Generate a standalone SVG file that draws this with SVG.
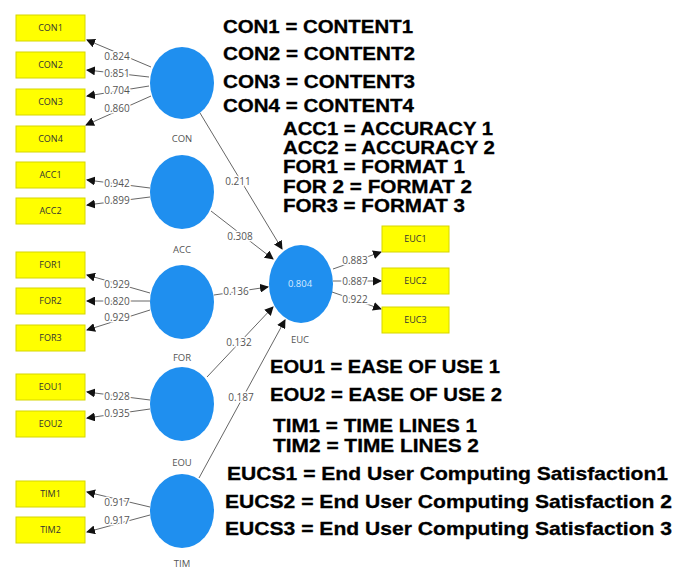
<svg xmlns="http://www.w3.org/2000/svg" width="688" height="571" viewBox="0 0 688 571">
<defs>
<marker id="ah" markerUnits="userSpaceOnUse" markerWidth="9" markerHeight="9" refX="8" refY="4.5" orient="auto">
<path d="M0,0 L9,4.5 L0,9 Z" fill="#111"/>
</marker>
<style>
.box{fill:#ffff00;stroke:#d6d600;stroke-width:1}
.bt{font-family:"Open Sans","Liberation Sans",sans-serif;font-size:9px;fill:#333;text-anchor:middle}
.lv{fill:#1f8fef}
.lt{font-family:"Open Sans","Liberation Sans",sans-serif;font-size:9.5px;fill:#555;text-anchor:middle}
.ln{stroke:#666;stroke-width:1;fill:none;marker-end:url(#ah)}
.ll{font-family:"Open Sans","Liberation Sans",sans-serif;font-size:10px;fill:#555;text-anchor:middle;dominant-baseline:central;stroke:#fff;stroke-width:3px;paint-order:stroke}
.lg{font-family:"Liberation Sans",Arial,sans-serif;font-weight:bold;font-size:19px;fill:#000;stroke:#000;stroke-width:0.3px}
</style>
</defs>
<rect width="688" height="571" fill="#fff"/>

<g id="connectors">
<line class="ln" x1="151" y1="67" x2="87" y2="40"/>
<line class="ln" x1="149" y1="77" x2="87" y2="70"/>
<line class="ln" x1="149" y1="86" x2="87" y2="96"/>
<line class="ln" x1="151" y1="96" x2="86" y2="125"/>
<line class="ln" x1="150" y1="188" x2="87" y2="180"/>
<line class="ln" x1="150" y1="197" x2="87" y2="205"/>
<line class="ln" x1="150" y1="293" x2="87" y2="275"/>
<line class="ln" x1="150" y1="301" x2="87" y2="301"/>
<line class="ln" x1="150" y1="310" x2="87" y2="330"/>
<line class="ln" x1="150" y1="400" x2="87" y2="392"/>
<line class="ln" x1="150" y1="409" x2="87" y2="418"/>
<line class="ln" x1="150" y1="507" x2="87" y2="492"/>
<line class="ln" x1="150" y1="515" x2="87" y2="532"/>
<line class="ln" x1="200" y1="113" x2="282" y2="249"/>
<line class="ln" x1="211" y1="211" x2="273" y2="259"/>
<line class="ln" x1="214" y1="295" x2="268" y2="287"/>
<line class="ln" x1="207" y1="377" x2="273" y2="307"/>
<line class="ln" x1="199" y1="478" x2="285" y2="320"/>
<line class="ln" x1="333" y1="269" x2="381" y2="252"/>
<line class="ln" x1="333" y1="281" x2="381" y2="281"/>
<line class="ln" x1="332" y1="292" x2="381" y2="309"/>
<text class="ll" x="117" y="56">0.824</text>
<text class="ll" x="117" y="73">0.851</text>
<text class="ll" x="117" y="90">0.704</text>
<text class="ll" x="117" y="108">0.860</text>
<text class="ll" x="117" y="183">0.942</text>
<text class="ll" x="117" y="200">0.899</text>
<text class="ll" x="117" y="284">0.929</text>
<text class="ll" x="117" y="301">0.820</text>
<text class="ll" x="117" y="317">0.929</text>
<text class="ll" x="117" y="396">0.928</text>
<text class="ll" x="117" y="413">0.935</text>
<text class="ll" x="117" y="502">0.917</text>
<text class="ll" x="117" y="520">0.917</text>
<text class="ll" x="238" y="181">0.211</text>
<text class="ll" x="240" y="236">0.308</text>
<text class="ll" x="236" y="291">0.136</text>
<text class="ll" x="239" y="342">0.132</text>
<text class="ll" x="241" y="397">0.187</text>
<text class="ll" x="355" y="260">0.883</text>
<text class="ll" x="355" y="281">0.887</text>
<text class="ll" x="355" y="299">0.922</text>
</g>

<g id="CON1"><rect class="box" x="16" y="15" width="69" height="26"/><text class="bt" x="50.5" y="31">CON1</text></g>
<g id="CON2"><rect class="box" x="16" y="52" width="69" height="26"/><text class="bt" x="50.5" y="68">CON2</text></g>
<g id="CON3"><rect class="box" x="16" y="89" width="69" height="26"/><text class="bt" x="50.5" y="105">CON3</text></g>
<g id="CON4"><rect class="box" x="16" y="126" width="69" height="26"/><text class="bt" x="50.5" y="142">CON4</text></g>
<g id="ACC1"><rect class="box" x="16" y="162" width="69" height="26"/><text class="bt" x="50.5" y="178">ACC1</text></g>
<g id="ACC2"><rect class="box" x="16" y="198" width="69" height="26"/><text class="bt" x="50.5" y="214">ACC2</text></g>
<g id="FOR1"><rect class="box" x="16" y="252" width="69" height="26"/><text class="bt" x="50.5" y="268">FOR1</text></g>
<g id="FOR2"><rect class="box" x="16" y="288" width="69" height="26"/><text class="bt" x="50.5" y="304">FOR2</text></g>
<g id="FOR3"><rect class="box" x="16" y="325" width="69" height="26"/><text class="bt" x="50.5" y="341">FOR3</text></g>
<g id="EOU1"><rect class="box" x="16" y="374" width="69" height="26"/><text class="bt" x="50.5" y="390">EOU1</text></g>
<g id="EOU2"><rect class="box" x="16" y="411" width="69" height="26"/><text class="bt" x="50.5" y="427">EOU2</text></g>
<g id="TIM1"><rect class="box" x="16" y="481" width="69" height="26"/><text class="bt" x="50.5" y="497">TIM1</text></g>
<g id="TIM2"><rect class="box" x="16" y="517" width="69" height="26"/><text class="bt" x="50.5" y="533">TIM2</text></g>
<g id="EUC1"><rect class="box" x="382" y="226" width="67" height="26"/><text class="bt" x="415.5" y="242">EUC1</text></g>
<g id="EUC2"><rect class="box" x="382" y="268" width="67" height="26"/><text class="bt" x="415.5" y="284">EUC2</text></g>
<g id="EUC3"><rect class="box" x="382" y="307" width="67" height="26"/><text class="bt" x="415.5" y="323">EUC3</text></g>

<g id="CON"><ellipse class="lv" cx="182" cy="83" rx="32" ry="36"/><text class="lt" x="182" y="142">CON</text></g>
<g id="ACC"><ellipse class="lv" cx="182" cy="192" rx="32" ry="37"/><text class="lt" x="182" y="253">ACC</text></g>
<g id="FOR"><ellipse class="lv" cx="182" cy="302" rx="32" ry="37"/><text class="lt" x="182" y="361">FOR</text></g>
<g id="EOU"><ellipse class="lv" cx="182" cy="404" rx="32" ry="37"/><text class="lt" x="182" y="466">EOU</text></g>
<g id="TIM"><ellipse class="lv" cx="182" cy="511" rx="32" ry="37"/><text class="lt" x="182" y="567">TIM</text></g>
<g id="EUC"><ellipse class="lv" cx="301" cy="284" rx="32" ry="39"/><text class="lt" x="300" y="287" style="fill:#d6eaff">0.804</text><text class="lt" x="300" y="343">EUC</text></g>

<g id="legend">
<text class="lg" x="223" y="33" textLength="190" lengthAdjust="spacingAndGlyphs">CON1 = CONTENT1</text>
<text class="lg" x="223" y="60" textLength="192" lengthAdjust="spacingAndGlyphs">CON2 = CONTENT2</text>
<text class="lg" x="223" y="88" textLength="192" lengthAdjust="spacingAndGlyphs">CON3 = CONTENT3</text>
<text class="lg" x="223" y="112" textLength="191" lengthAdjust="spacingAndGlyphs">CON4 = CONTENT4</text>
<text class="lg" x="283" y="135" textLength="210" lengthAdjust="spacingAndGlyphs">ACC1 = ACCURACY 1</text>
<text class="lg" x="283" y="154" textLength="212" lengthAdjust="spacingAndGlyphs">ACC2 = ACCURACY 2</text>
<text class="lg" x="283" y="173" textLength="182" lengthAdjust="spacingAndGlyphs">FOR1 = FORMAT 1</text>
<text class="lg" x="283" y="193" textLength="189" lengthAdjust="spacingAndGlyphs">FOR 2 = FORMAT 2</text>
<text class="lg" x="283" y="212" textLength="182" lengthAdjust="spacingAndGlyphs">FOR3 = FORMAT 3</text>
<text class="lg" x="270" y="373" textLength="230" lengthAdjust="spacingAndGlyphs">EOU1 = EASE OF USE 1</text>
<text class="lg" x="270" y="401" textLength="232" lengthAdjust="spacingAndGlyphs">EOU2 = EASE OF USE 2</text>
<text class="lg" x="273" y="432" textLength="204" lengthAdjust="spacingAndGlyphs">TIM1 = TIME LINES 1</text>
<text class="lg" x="273" y="452" textLength="206" lengthAdjust="spacingAndGlyphs">TIM2 = TIME LINES 2</text>
<text class="lg" x="227" y="480" textLength="441" lengthAdjust="spacingAndGlyphs">EUCS1 = End User Computing Satisfaction1</text>
<text class="lg" x="225" y="508" textLength="447" lengthAdjust="spacingAndGlyphs">EUCS2 = End User Computing Satisfaction 2</text>
<text class="lg" x="225" y="535" textLength="447" lengthAdjust="spacingAndGlyphs">EUCS3 = End User Computing Satisfaction 3</text>
</g>
</svg>
